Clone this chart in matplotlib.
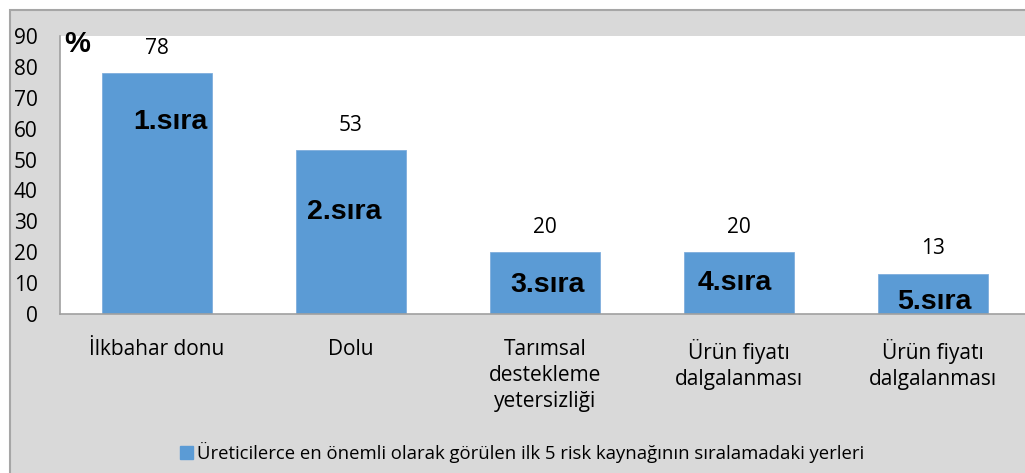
import matplotlib
matplotlib.use("Agg")
import matplotlib.pyplot as plt
from matplotlib.patches import Rectangle, Patch

categories = ["İlkbahar donu", "Dolu", "Tarımsal\ndestekleme\nyetersizliği",
              "Ürün fiyatı\ndalgalanması", "Ürün fiyatı\ndalgalanması"]
values = [78, 53, 20, 20, 13]
rank_labels = ["1.sıra", "2.sıra", "3.sıra", "4.sıra", "5.sıra"]
series_name = "Üreticilerce en önemli olarak görülen ilk 5 risk kaynağının sıralamadaki yerleri"
y_ticks = [0, 10, 20, 30, 40, 50, 60, 70, 80, 90]

# layout for the rank annotations (x offset from bar centre, y in data units)
rank_pos = [(0.067, 62.2), (-0.036, 33.0), (0.013, 9.4), (-0.021, 10.0), (0.008, 3.9)]

W, H = 1025, 473
fig = plt.figure(figsize=(W / 100, H / 100), dpi=100)
fig.patch.set_facecolor("white")

# grey chart frame
fig.patches.append(Rectangle((10 / W, -0.1), 1.2, (H - 10) / H + 0.1,
                             transform=fig.transFigure, facecolor="#D9D9D9",
                             edgecolor="#A6A6A6", linewidth=1.5, zorder=-10))

FONT = "Open Sans"
ax = fig.add_axes([60 / W, (H - 314) / H, 970 / W, 278 / H])
ax.set_zorder(1)
ax.set_facecolor("white")
bar_color = "#5B9BD5"
x = list(range(len(values)))
bars = ax.bar(x, values, width=0.57, color=bar_color, edgecolor="#7FAEDD", linewidth=0.6)

ax.set_xlim(-0.5, 4.5)
ax.set_ylim(0, 90)
ax.set_yticks(y_ticks)
ax.set_yticklabels([str(t) for t in y_ticks], fontsize=15, family=FONT)
ax.tick_params(axis="y", length=0, pad=16)
ax.set_xticks(x)
ax.set_xticklabels(categories, fontsize=15, family=FONT, linespacing=1.32)
ax.tick_params(axis="x", length=0, pad=18)

for s in ["top", "right"]:
    ax.spines[s].set_visible(False)
for s in ["left", "bottom"]:
    ax.spines[s].set_color("#A0A0A0")
    ax.spines[s].set_linewidth(1.2)

for xi, v in zip(x, values):
    ax.annotate(str(v), (xi, v), xytext=(0, 18), textcoords="offset points",
                ha="center", va="center", fontsize=15, family=FONT)

for xi, lab, (dx, yy) in zip(x, rank_labels, rank_pos):
    ax.text(xi + dx, yy, lab, ha="center", va="center", fontsize=20.5,
            fontweight="bold", family="Liberation Sans")

fig.text(77 / W, 1 - 44 / H, "%", ha="center", va="center", fontsize=21,
         fontweight="bold", family="Liberation Sans", zorder=5)

handle = Patch(facecolor=bar_color, edgecolor=bar_color)
leg = fig.legend([handle], [series_name], loc="center", bbox_to_anchor=(522 / W, 1 - 452 / H),
                 frameon=False, prop={"family": FONT, "size": 13.3},
                 handlelength=0.7, handleheight=0.7, handletextpad=0.2)

fig.savefig("out.png", dpi=100, facecolor=fig.get_facecolor())
